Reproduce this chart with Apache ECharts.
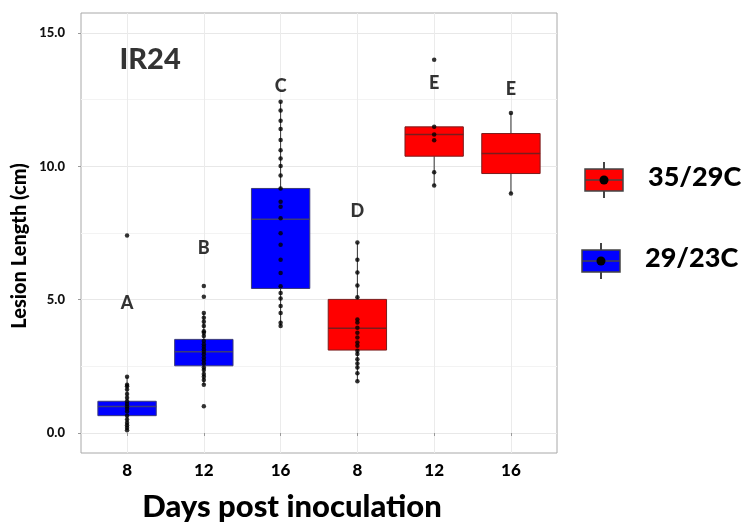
<!DOCTYPE html>
<html>
<head>
<meta charset="utf-8">
<script src="https://cdn.jsdelivr.net/npm/echarts@6/dist/echarts.min.js"></script>
<style>
  html, body { margin: 0; background: #fff; }
  #chart { width: 750px; height: 527px; }
</style>
</head>
<body>
<div id="chart"></div>
<script>
// one box per group: first three 29/23C, last three 35/29C
const days = ['8', '12', '16', '8', '12', '16'];
const temps = ['29/23C', '29/23C', '29/23C', '35/29C', '35/29C', '35/29C'];

// [lower whisker, Q1, median, Q3, upper whisker]
const boxStats = [
  [0.10, 0.65, 0.99, 1.19, 2.11],
  [1.81, 2.52, 3.05, 3.51, 4.50],
  [4.01, 5.42, 8.02, 9.17, 12.42],
  [1.94, 3.11, 3.93, 5.01, 7.14],
  [9.28, 10.38, 11.19, 11.48, 11.48],
  [8.98, 9.73, 10.48, 11.23, 12.00]
];

// individual lesion lengths (cm)
const cool8 = [7.41, 2.11, 1.81, 1.75, 1.63, 1.46, 1.32, 1.19, 1.09, 0.99, 0.91, 0.81, 0.65, 0.51, 0.38, 0.29, 0.20, 0.10];
const cool12 = [5.51, 5.11, 4.50, 4.32, 4.17, 4.01, 3.82, 3.76, 3.64, 3.45, 3.33, 3.23, 3.14, 3.05, 2.95, 2.83, 2.73, 2.61, 2.46, 2.36, 2.21, 2.11, 1.99, 1.81, 1.00];
const cool16 = [12.42, 12.09, 11.71, 11.40, 10.99, 10.60, 10.29, 10.01, 9.66, 9.17, 8.67, 8.48, 8.05, 7.49, 7.06, 6.50, 6.00, 5.50, 5.25, 5.04, 4.76, 4.50, 4.13, 4.01];
const hot8 = [7.14, 6.50, 6.02, 5.53, 5.09, 4.26, 4.14, 3.95, 3.76, 3.58, 3.39, 3.27, 3.08, 2.96, 2.77, 2.61, 2.46, 2.24, 1.94];
const hot12 = [14.00, 11.48, 11.19, 10.98, 9.78, 9.28];
const hot16 = [12.00, 8.98];
const lesions = [cool8, cool12, cool16, hot8, hot12, hot16];

// significance letters and the height they sit at
const letters = ['A', 'B', 'C', 'D', 'E', 'E'];
const letterY = [4.88, 6.92, 13.0, 8.30, 13.13, 12.88];

const yMajor = [0, 5, 10, 15];
const yMinor = [2.5, 7.5, 12.5];
const xPos = [1, 2, 3, 4, 5, 6];

const colors = { '35/29C': '#ff0000', '29/23C': '#0000ff' };
const medianColors = { '35/29C': '#7a1c1c', '29/23C': '#3b3b78' };
const FONT = 'Lato';
const W = 900;

const boxData = boxStats.map((s, i) => [xPos[i]].concat(s));
const pointData = [];
lesions.forEach((arr, i) => arr.forEach(v => pointData.push([xPos[i], v])));
const letterData = letters.map((l, i) => [xPos[i], letterY[i]]);

const chart = echarts.init(document.getElementById('chart'));

function legendItem(label, cx, cy) {
  const fill = colors[label];
  return {
    type: 'group',
    children: [
      { type: 'line', shape: { x1: cx, y1: cy - 18, x2: cx, y2: cy + 18 }, style: { stroke: '#444', lineWidth: 2 } },
      { type: 'rect', shape: { x: cx - 19, y: cy - 11, width: 38, height: 22 }, style: { fill: fill, stroke: '#444', lineWidth: 1.5 } },
      { type: 'line', shape: { x1: cx - 19, y1: cy, x2: cx + 19, y2: cy }, style: { stroke: '#444', lineWidth: 1.5 } },
      { type: 'circle', shape: { cx: cx, cy: cy, r: 4.5 }, style: { fill: '#000' } },
      { type: 'text', x: cx + 44, y: cy - 3, style: { text: label, font: W + ' 27px ' + FONT, fill: '#000', textVerticalAlign: 'middle' } }
    ]
  };
}

chart.setOption({
  backgroundColor: '#fff',
  animation: false,
  grid: {
    left: 81, right: 193, top: 13, bottom: 71,
    show: true, borderColor: '#a8a8a8', borderWidth: 1
  },
  xAxis: {
    type: 'value',
    min: 0.4,
    max: 6.6,
    axisLine: { show: false },
    axisTick: { customValues: xPos, length: 3, lineStyle: { color: '#999' } },
    axisLabel: {
      customValues: xPos,
      formatter: v => days[Math.round(v) - 1],
      fontFamily: FONT, fontWeight: W, fontSize: 17, color: '#000', margin: 9
    },
    splitLine: { show: true, lineStyle: { color: '#ebebeb', width: 1 } },
    name: 'Days post inoculation',
    nameLocation: 'middle',
    nameGap: 38,
    nameTextStyle: { fontFamily: FONT, fontWeight: W, fontSize: 31, color: '#000', padding: [0, 54, 0, 0] }
  },
  yAxis: [{
    type: 'value',
    min: -0.75,
    max: 15.75,
    axisLine: { show: false },
    axisTick: { customValues: yMajor, length: 3, lineStyle: { color: '#999' } },
    axisLabel: {
      customValues: yMajor,
      formatter: v => v.toFixed(1),
      fontFamily: FONT, fontWeight: W, fontSize: 13, color: '#111', margin: 16
    },
    splitLine: { show: true, lineStyle: { color: '#e8e8e8', width: 1 } }
  }, {
    type: 'value',
    min: -0.75,
    max: 15.75,
    position: 'left',
    axisLine: { show: false },
    axisTick: { show: false, customValues: yMinor },
    axisLabel: { show: false },
    splitLine: { show: true, lineStyle: { color: '#f3f3f3', width: 1 } }
  }],
  series: [
    {
      type: 'custom',
      name: 'box',
      data: boxData,
      z: 2,
      renderItem: (params, api) => {
        const x = api.value(0);
        const lo = api.coord([x, api.value(1)]);
        const q1 = api.coord([x, api.value(2)]);
        const md = api.coord([x, api.value(3)]);
        const q3 = api.coord([x, api.value(4)]);
        const hi = api.coord([x, api.value(5)]);
        const w = api.size([0.76, 0])[0];
        const t = temps[params.dataIndex];
        return {
          type: 'group',
          children: [
            { type: 'line', shape: { x1: lo[0], y1: lo[1], x2: q1[0], y2: q1[1] }, style: { stroke: '#333', lineWidth: 1 } },
            { type: 'line', shape: { x1: q3[0], y1: q3[1], x2: hi[0], y2: hi[1] }, style: { stroke: '#333', lineWidth: 1 } },
            { type: 'rect', shape: { x: q3[0] - w / 2, y: q3[1], width: w, height: q1[1] - q3[1] }, style: { fill: colors[t], stroke: medianColors[t], lineWidth: 1 } },
            { type: 'line', shape: { x1: md[0] - w / 2, y1: md[1], x2: md[0] + w / 2, y2: md[1] }, style: { stroke: medianColors[t], lineWidth: 1.5 } }
          ]
        };
      }
    },
    {
      type: 'scatter',
      name: 'points',
      data: pointData,
      symbolSize: 4.5,
      itemStyle: { color: '#000' },
      z: 3
    },
    {
      type: 'scatter',
      name: 'letters',
      data: letterData,
      symbolSize: 0,
      z: 4,
      label: {
        show: true,
        position: 'inside',
        formatter: p => letters[p.dataIndex],
        fontFamily: FONT, fontWeight: W, fontSize: 18, color: '#000'
      }
    },
    {
      type: 'scatter',
      name: 'cultivar',
      data: [[1.3, 14.0]],
      symbolSize: 0,
      z: 4,
      label: {
        show: true,
        position: 'inside',
        formatter: 'IR24',
        fontFamily: FONT, fontWeight: W, fontSize: 29, color: '#000'
      }
    }
  ],
  graphic: [
    {
      type: 'text',
      x: 20,
      y: 246,
      rotation: Math.PI / 2,
      style: {
        text: 'Lesion Length (cm)',
        font: W + ' 20px ' + FONT,
        fill: '#000',
        align: 'center',
        verticalAlign: 'middle'
      }
    },
    legendItem('35/29C', 604, 180),
    legendItem('29/23C', 601, 261)
  ]
});
</script>
</body>
</html>
